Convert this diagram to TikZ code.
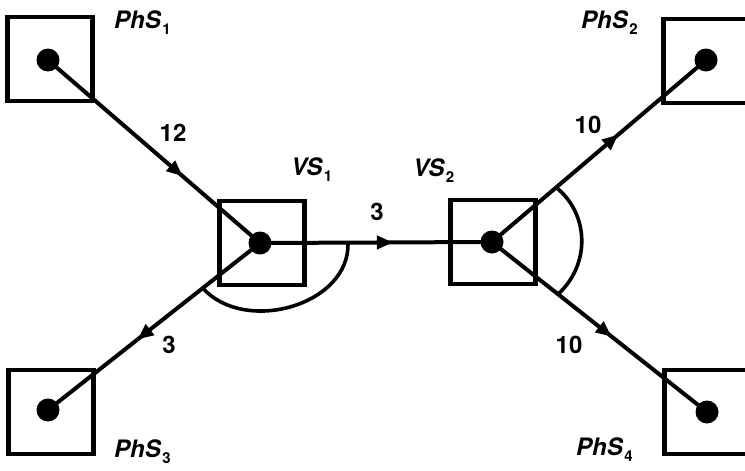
\documentclass[tikz,border=0pt]{standalone}
\usepackage{fontspec}
\setmainfont{TeX Gyre Heros}
\usetikzlibrary{arrows.meta,decorations.markings,calc}

\newcommand{\siteidx}[1]{\kern1.5pt\raisebox{-6pt}{\fontsize{15}{15}\selectfont\upshape #1}}

\tikzset{
  site/.style={draw, line width=4.6pt, minimum width=85pt, minimum height=84pt, inner sep=0pt},
  hub/.style={circle, fill, minimum size=23pt, inner sep=0pt},
  flow/.style={line width=4pt, postaction=decorate,
    decoration={markings, mark=at position #1 with {\arrow{Triangle[length=16pt,width=13pt]}}}},
  sitelabel/.style={font=\fontsize{24}{28}\selectfont\bfseries\itshape, anchor=base west, inner sep=0pt},
  weight/.style={font=\fontsize{24}{28}\selectfont\bfseries, inner sep=0pt},
  span/.style={line width=3.6pt}
}

\begin{document}
\begin{tikzpicture}[x=1pt,y=-1pt]
\useasboundingbox (0,0) rectangle (745,471);
\clip (0,0) rectangle (745,471);

% square sites
\node[site] (bp1) at (50,59) {};
\node[site] (bp2) at (706,61) {};
\node[site] (bp3) at (51,412) {};
\node[site] (bp4) at (707,412) {};
\node[site] (bv1) at (262,243) {};
\node[site] (bv2) at (493,242) {};

% centre points of the sites
\node[hub] (p1) at (48,60) {};
\node[hub] (p2) at (706,60) {};
\node[hub] (p3) at (48,410) {};
\node[hub] (p4) at (707,412) {};
\node[hub] (v1) at (260,243) {};
\node[hub] (v2) at (492,242) {};

% weighted connections
\draw[flow=0.635] (p1.center) -- (v1.center);
\draw[flow=0.573] (v1.center) -- (v2.center);
\draw[flow=0.578] (v1.center) -- (p3.center);
\draw[flow=0.59]  (v2.center) -- (p2.center);
\draw[flow=0.557] (v2.center) -- (p4.center);

% grouping arcs
\coordinate (a1) at ($(v1.center)+(88,0)$);
\coordinate (a2) at ($(v1.center)!0.27!(p3.center)$);
\draw[span] (a1) .. controls (350,305) and (245,335) .. (a2);
\coordinate (c1) at ($(v2.center)!0.3!(p2.center)$);
\coordinate (c2) at ($(v2.center)!0.307!(p4.center)$);
\draw[span] (c1) .. controls (590,215) and (590,265) .. (c2);

% site names
\node[sitelabel] (l1) at (114,28) {PhS\siteidx{1}};
\node[sitelabel] (l2) at (581,28) {PhS\siteidx{2}};
\node[sitelabel] (l3) at (114,457) {PhS\siteidx{3}};
\node[sitelabel] (l4) at (576,455) {PhS\siteidx{4}};
\node[sitelabel] (l5) at (291,175) {VS\siteidx{1}};
\node[sitelabel] (l6) at (413,176) {VS\siteidx{2}};

% weights
\node[weight] (w1) at (173,133) {12};
\node[weight] (w2) at (377,212) {3};
\node[weight] (w3) at (169,345) {3};
\node[weight] (w4) at (588,125) {10};
\node[weight] (w5) at (569,345) {10};
\end{tikzpicture}
\end{document}
